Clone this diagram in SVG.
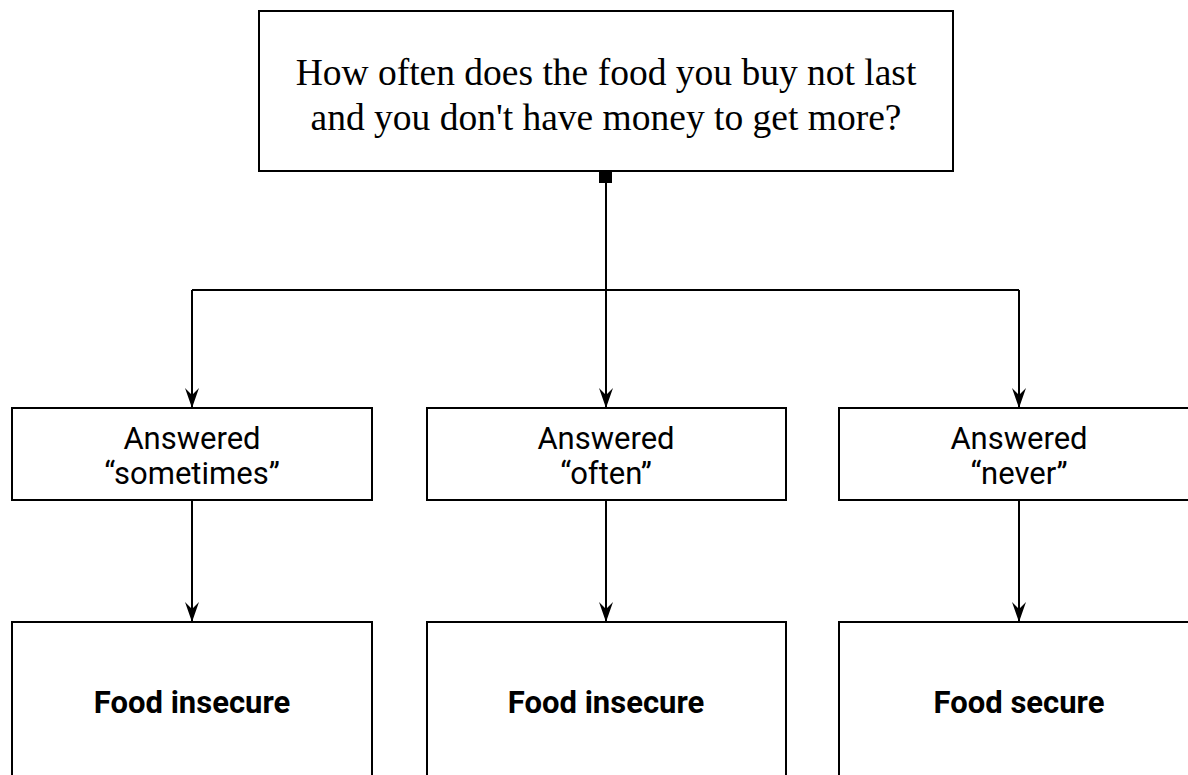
<svg xmlns="http://www.w3.org/2000/svg" width="1188" height="775" viewBox="0 0 1188 775">
<style>
.box{fill:#fff;stroke:#000;stroke-width:2}
.q{font-family:"Liberation Serif",serif;font-size:37.5px;fill:#000;text-anchor:middle}
.a{font-family:Roboto,"Liberation Sans",sans-serif;font-size:31px;fill:#000;text-anchor:middle}
.r{font-family:Roboto,"Liberation Sans",sans-serif;font-size:31px;font-weight:bold;fill:#000;text-anchor:middle}
.c{fill:none;stroke:#000;stroke-width:2}
</style>
<defs>
<marker id="arr" viewBox="0 0 20 14" refX="20" refY="7" markerWidth="20" markerHeight="14" markerUnits="userSpaceOnUse" orient="auto">
<path d="M0,0 L20,7 L0,14 L7,7 Z" fill="#000"/>
</marker>
</defs>
<rect width="1188" height="775" fill="#fff"/>
<g id="connectors">
<rect x="599" y="171" width="13" height="12" fill="#000"/>
<path class="c" d="M606,183 V408" marker-end="url(#arr)"/>
<path class="c" d="M192,290 H1019"/>
<path class="c" d="M192,290 V408" marker-end="url(#arr)"/>
<path class="c" d="M1019,290 V408" marker-end="url(#arr)"/>
<path class="c" d="M192,500 V622" marker-end="url(#arr)"/>
<path class="c" d="M606,500 V622" marker-end="url(#arr)"/>
<path class="c" d="M1019,500 V622" marker-end="url(#arr)"/>
</g>
<g id="question">
<rect class="box" x="259" y="11" width="694" height="160"/>
<text class="q" x="606" y="85">How often does the food you buy not last</text>
<text class="q" x="606" y="130">and you don't have money to get more?</text>
</g>
<g id="ans-sometimes">
<rect class="box" x="12" y="408" width="360" height="92"/>
<text class="a" x="192" y="449">Answered</text>
<text class="a" x="192" y="484">“sometimes”</text>
</g>
<g id="ans-often">
<rect class="box" x="427" y="408" width="359" height="92"/>
<text class="a" x="606" y="449">Answered</text>
<text class="a" x="606" y="484">“often”</text>
</g>
<g id="ans-never">
<rect class="box" x="839" y="408" width="360" height="92"/>
<text class="a" x="1019" y="449">Answered</text>
<text class="a" x="1019" y="484">“never”</text>
</g>
<g id="res-1">
<rect class="box" x="12" y="622" width="360" height="170"/>
<text class="r" x="192" y="713">Food insecure</text>
</g>
<g id="res-2">
<rect class="box" x="427" y="622" width="359" height="170"/>
<text class="r" x="606" y="713">Food insecure</text>
</g>
<g id="res-3">
<rect class="box" x="839" y="622" width="360" height="170"/>
<text class="r" x="1019" y="713">Food secure</text>
</g>
</svg>
